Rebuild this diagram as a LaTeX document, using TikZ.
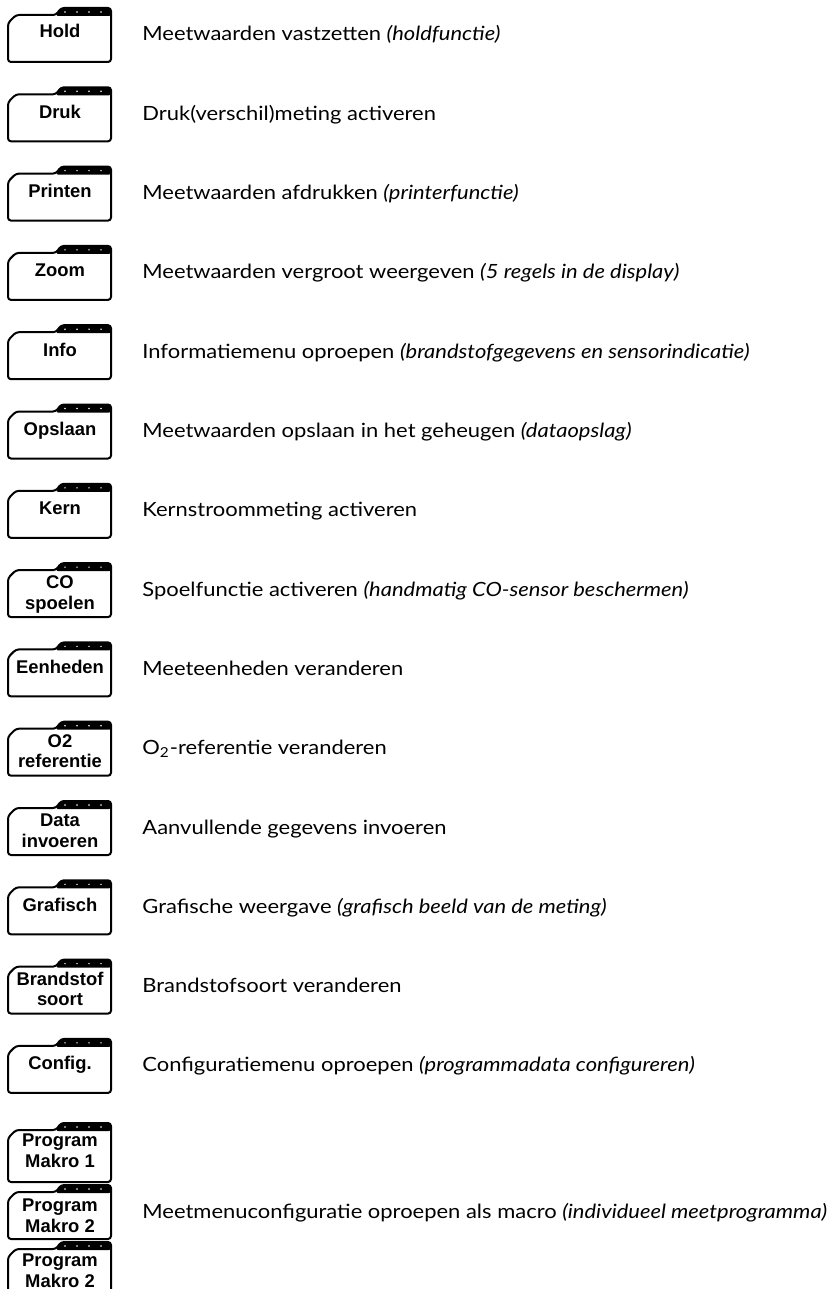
\documentclass[tikz,border=0pt]{standalone}
\usepackage{fontspec}
\setmainfont{Lato}[FakeStretch=1.12]
\newfontfamily\keyfont{Liberation Sans}
\usetikzlibrary{calc}
\tikzstyle{keyline}=[line width=1pt, rounded corners=1.5pt, fill=white]
\tikzstyle{keylabel}=[font=\keyfont\bfseries\fontsize{9.2}{10.3}\selectfont, align=center, inner sep=0pt, anchor=base]
\tikzstyle{desc}=[font=\fontsize{9.8}{11}\selectfont, anchor=base west, inner sep=0pt]
% key with black tab: name, x, y, half height, label, baseline of last label line
\newcommand{\tabKey}[6]{
	\coordinate (#1) at (#2,#3);
	\draw[keyline] ($(#1)+(-52,#4)$) -- ($(#1)+(-52,-#4+15)$) -- ($(#1)+(-44,-#4+7)$) -- ($(#1)+(-4,-#4+7)$) -- ($(#1)+(1,-#4)$) -- ($(#1)+(51,-#4)$) -- ($(#1)+(51,#4)$) -- cycle;
	\fill[rounded corners=1pt] ($(#1)+(-4,-#4+8)$) -- ($(#1)+(1,-#4)$) -- ($(#1)+(51,-#4)$) -- ($(#1)+(51,-#4+8)$) -- cycle;
	\foreach \d in {5,17,29,41} \fill[white] ($(#1)+(\d,-#4+4)$) circle (0.4pt);
	\node[keylabel] (#1-txt) at ($(#1)+(0,#6)$) {#5};
}

\begin{document}
\begin{tikzpicture}[x=0.5pt, y=-0.5pt]
	\useasboundingbox (0,0) rectangle (834,1289);
	\tabKey{hold}{60}{35}{27}{Hold}{3}
	\node[desc] (d-hold) at (142,41) {Meetwaarden vastzetten \textit{(holdfunctie)}};
	\tabKey{druk}{60}{114.3}{27}{Druk}{4}
	\node[desc] (d-druk) at (142,120.3) {Druk(verschil)meting activeren};
	\tabKey{printen}{60}{193.6}{27}{Printen}{4}
	\node[desc] (d-printen) at (142,199.6) {Meetwaarden afdrukken \textit{(printerfunctie)}};
	\tabKey{zoom}{60}{272.9}{27}{Zoom}{4}
	\node[desc] (d-zoom) at (142,278.9) {Meetwaarden vergroot weergeven \textit{(5 regels in de display)}};
	\tabKey{info}{60}{352.2}{27}{Info}{4}
	\node[desc] (d-info) at (142,358.2) {Informatiemenu oproepen \textit{(brandstofgegevens en sensorindicatie)}};
	\tabKey{opslaan}{60}{431.5}{27}{Opslaan}{4}
	\node[desc] (d-opslaan) at (142,437.5) {Meetwaarden opslaan in het geheugen \textit{(dataopslag)}};
	\tabKey{kern}{60}{510.8}{27}{Kern}{4}
	\node[desc] (d-kern) at (142,516.8) {Kernstroommeting activeren};
	\tabKey{spoelen}{60}{590.1}{27}{CO\\spoelen}{19}
	\node[desc] (d-spoelen) at (142,596.1) {Spoelfunctie activeren \textit{(handmatig CO-sensor beschermen)}};
	\tabKey{eenheden}{60}{669.4}{27}{Eenheden}{4}
	\node[desc] (d-eenheden) at (142,675.4) {Meeteenheden veranderen};
	\tabKey{oref}{60}{748.7}{27}{O2\\referentie}{19}
	\node[desc] (d-oref) at (142,754.7) {O\textsubscript{2}-referentie veranderen};
	\tabKey{data}{60}{828}{27}{Data\\invoeren}{19}
	\node[desc] (d-data) at (142,834) {Aanvullende gegevens invoeren};
	\tabKey{grafisch}{60}{907.3}{27}{Grafisch}{4}
	\node[desc] (d-grafisch) at (142,913.3) {Grafische weergave \textit{(grafisch beeld van de meting)}};
	\tabKey{brandstof}{60}{986.6}{27}{Brandstof\\soort}{19}
	\node[desc] (d-brandstof) at (142,992.6) {Brandstofsoort veranderen};
	\tabKey{config}{60}{1065.9}{27}{Config.}{4}
	\node[desc] (d-config) at (142,1071.9) {Configuratiemenu oproepen \textit{(programmadata configureren)}};
	\tabKey{makroa}{60}{1152.5}{29.5}{Program\\Makro 1}{15}
	\tabKey{makrob}{60}{1212}{27}{Program\\Makro 2}{20}
	\tabKey{makroc}{60}{1270}{28}{Program\\Makro 2}{17}
	\node[desc] (d-makro) at (142,1218) {Meetmenuconfiguratie oproepen als macro \textit{(individueel meetprogramma)}};
\end{tikzpicture}
\end{document}
